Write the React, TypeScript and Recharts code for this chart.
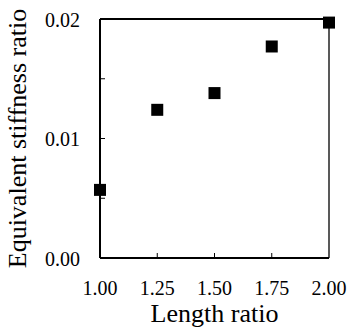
import { ScatterChart, Scatter, XAxis, YAxis, ReferenceLine } from 'recharts'

// Equivalent stiffness ratio vs length ratio — five measured points.
const lengthRatio = [1.0, 1.25, 1.5, 1.75, 2.0]
const stiffnessRatio = [0.0057, 0.0124, 0.0138, 0.0177, 0.0197]

const xTicks = [1, 1.25, 1.5, 1.75, 2]
const yTicks = [0, 0.005, 0.01, 0.015, 0.02]
const yLabelled = [0, 0.01, 0.02]

const points = lengthRatio.map((x, i) => ({ x, y: stiffnessRatio[i] }))

const FONT = "'Liberation Serif', 'DejaVu Serif', serif"
const txt = (size: number) => ({ fontFamily: FONT, fontSize: size, fill: '#000' })

function Square({ cx, cy }: any) {
  return <rect x={cx - 6} y={cy - 6} width={12} height={12} fill="#000" />
}

function YTick({ x, y, payload }: any) {
  const v = payload.value
  const inner = v > 0 && v < 0.02
  return (
    <g>
      {inner && <line x1={x} x2={x + 5} y1={y} y2={y} stroke="#000" strokeWidth={1} />}
      {yLabelled.includes(v) && (
        <text x={x - 20} y={y} dy={7.5} textAnchor="end" style={txt(20)}>
          {v.toFixed(2)}
        </text>
      )}
    </g>
  )
}

function XTick({ x, y, payload }: any) {
  const v = payload.value
  const inner = v > 1 && v < 2
  return (
    <g>
      {inner && <line x1={x} x2={x} y1={y} y2={y - 5} stroke="#000" strokeWidth={1} />}
      <text x={x} y={y + 37} textAnchor="middle" style={txt(20)}>
        {v.toFixed(2)}
      </text>
    </g>
  )
}

export default function App() {
  return (
    <div style={{ position: 'absolute', left: 0, top: 0, background: '#fff', fontFamily: FONT }}>
      <ScatterChart width={348} height={331} margin={{ top: 19, right: 19, bottom: 0, left: 0 }}
        style={{ fontFamily: FONT }}>
        <XAxis
          type="number" dataKey="x" domain={[1, 2]} ticks={xTicks} height={73}
          axisLine={{ stroke: '#000', strokeWidth: 2 }} tickLine={false} tickSize={0} tickMargin={0}
          tick={<XTick />}
          label={{
            content: ({ viewBox }: any) => (
              <text x={viewBox.x + viewBox.width / 2} y={viewBox.y + 64} textAnchor="middle"
                style={txt(26)}>Length ratio</text>
            ),
          }}
        />
        <YAxis
          type="number" dataKey="y" domain={[0, 0.02]} ticks={yTicks} width={100}
          axisLine={{ stroke: '#000', strokeWidth: 2 }} tickLine={false} tickSize={0} tickMargin={0}
          tick={<YTick />}
          label={{
            content: ({ viewBox }: any) => {
              const cy = viewBox.y + viewBox.height / 2
              return (
                <text x={26} y={cy} transform={`rotate(-90, 26, ${cy})`} textAnchor="middle"
                  style={txt(26)}>Equivalent stiffness ratio</text>
              )
            },
          }}
        />
        <ReferenceLine y={0.02} stroke="#000" strokeWidth={2} />
        <ReferenceLine x={2} stroke="#222" strokeWidth={1.5} />
        <Scatter data={points} fill="#000" shape={<Square />} isAnimationActive={false} />
      </ScatterChart>
    </div>
  )
}
